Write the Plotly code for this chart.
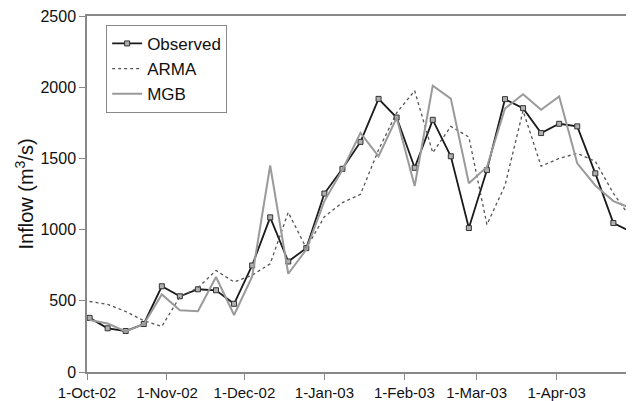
import pandas as pd
import plotly.graph_objects as go

dates = pd.date_range("2002-10-02", periods=31, freq="7D")

observed = [380, 307, 288, 337, 602, 532, 581, 574, 479, 748,
            1086, 776, 870, 1253, 1427, 1616, 1918, 1787, 1434, 1771,
            1515, 1011, 1418, 1916, 1853, 1678, 1743, 1725, 1395, 1046, 985]
arma = [495, 475, 425, 360, 320, 528, 591, 713, 632, 680,
        760, 1121, 870, 1090, 1190, 1248, 1560, 1820, 1975, 1540,
        1725, 1650, 1035, 1310, 1835, 1445, 1500, 1535, 1480, 1255, 1075]
mgb = [365, 340, 285, 335, 545, 434, 427, 667, 400, 670,
       1450, 690, 860, 1200, 1420, 1680, 1515, 1785, 1306, 2010,
       1920, 1325, 1440, 1850, 1950, 1841, 1935, 1465, 1310, 1200, 1150]

month_ticks = pd.date_range("2002-10-01", "2003-04-01", freq="MS")

fig = go.Figure()
fig.add_trace(go.Scatter(x=dates, y=observed, name="Observed", mode="lines+markers",
                         line=dict(color="#1a1a1a", width=1.8),
                         marker=dict(symbol="square", size=5, color="#b0b0b0",
                                     line=dict(color="#333333", width=1))))
fig.add_trace(go.Scatter(x=dates, y=arma, name="ARMA", mode="lines",
                         line=dict(color="#555555", width=1.3, dash="dot")))
fig.add_trace(go.Scatter(x=dates, y=mgb, name="MGB", mode="lines",
                         line=dict(color="#9a9a9a", width=2)))

font = "Liberation Sans, Arial, sans-serif"
# the page body has an 8px margin, so the figure is drawn 8px smaller
fig.update_layout(
    width=626, height=393,
    margin=dict(l=79, r=0, t=7, b=27),
    paper_bgcolor="white", plot_bgcolor="white",
    font=dict(family=font, color="#111111"),
    showlegend=True,
    legend=dict(x=0.035, y=0.975, xanchor="left", yanchor="top",
                bordercolor="#888888", borderwidth=1, bgcolor="white",
                font=dict(size=17, family=font), itemwidth=30,
                tracegroupgap=0),
    annotations=[dict(text="Inflow (m<sup>3</sup>/s)", textangle=-90,
                      xref="paper", yref="paper", x=-0.116, y=0.5,
                      xanchor="center", yanchor="middle", showarrow=False,
                      font=dict(size=20, family=font, color="#111111"))],
)
fig.update_xaxes(range=["2002-10-01", "2003-05-01"], tickvals=month_ticks,
                 tickformat="%-d-%b-%y", ticks="outside", ticklen=6,
                 tickcolor="#888888", showline=True, linecolor="#888888",
                 linewidth=1.5, mirror=True, showgrid=False, zeroline=False,
                 tickfont=dict(size=15, family=font), ticklabeloverflow="allow")
fig.update_yaxes(range=[0, 2500], dtick=500, ticks="outside", ticklen=6,
                 tickcolor="#888888", showline=True, linecolor="#888888",
                 linewidth=1.5, showgrid=False, zeroline=False,
                 tickfont=dict(size=16, family=font), ticklabeloverflow="allow")
fig.write_html("out.html")
